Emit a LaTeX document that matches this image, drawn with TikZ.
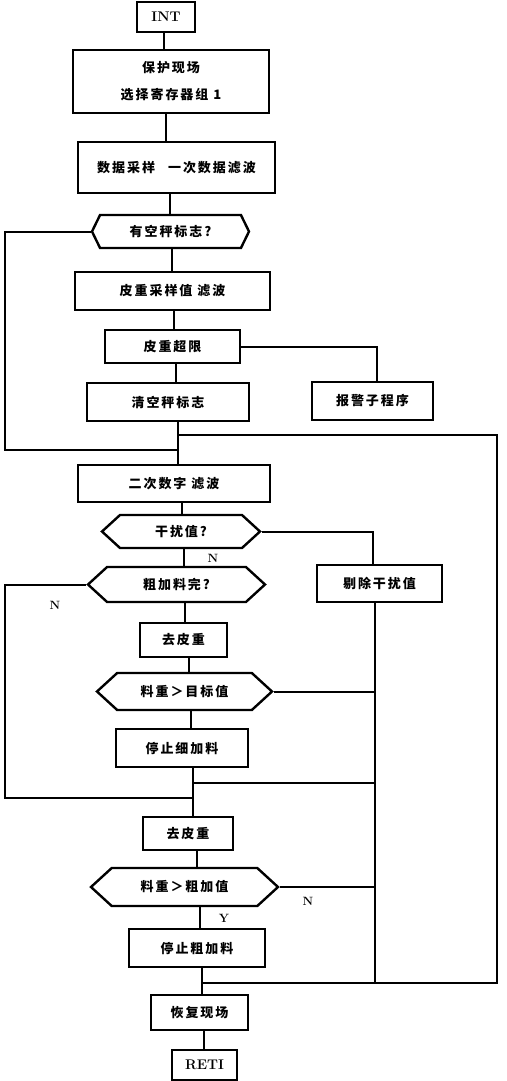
\documentclass[tikz,border=0pt]{standalone}
\usepackage{fontspec}
\usetikzlibrary{shapes.symbols}
\newfontfamily\cjk{Noto Sans CJK SC}[LetterSpace=15]

\tikzset{
  proc/.style={draw,line width=2.4pt,inner sep=0pt,font=\cjk\bfseries\fontsize{13}{15}\selectfont},
  decide/.style={proc,signal,signal to=west and east,signal pointer angle=85},
  lbl/.style={font=\bfseries\fontsize{12}{12}\selectfont},
  latin/.style={font=\bfseries\fontsize{14}{14}\selectfont}
}

\begin{document}
\begin{tikzpicture}[x=1pt,y=-1pt,line width=2pt]
\useasboundingbox (0,0) rectangle (506,1081);
% main column
\node[proc,latin,minimum width=58,minimum height=30] (int) at (166,17) {INT};
\node[proc,minimum width=196,minimum height=63,align=center] (prot) at (171,81.5) {保护现场\\[12pt]选择寄存器组 1};
\node[proc,minimum width=197,minimum height=51] (samp) at (176.5,167.5) {数据采样\quad 一次数据滤波};
\node[decide,minimum width=157,minimum height=33,signal pointer angle=128] (flag) at (170.5,231.5) {有空秤标志?};
\node[proc,minimum width=195,minimum height=38] (tare) at (172.5,291) {皮重采样值\ 滤波};
\node[proc,minimum width=135,minimum height=33] (over) at (172.5,346.5) {皮重超限};
\node[proc,minimum width=121,minimum height=38] (alarm) at (372.5,401) {报警子程序};
\node[proc,minimum width=162,minimum height=38] (clear) at (168,402) {清空秤标志};
\node[proc,minimum width=192,minimum height=37] (filt) at (174,483.5) {二次数字\ 滤波};
\node[decide,minimum width=158,minimum height=33] (noise) at (181,531.5) {干扰值?};
\node[proc,minimum width=125,minimum height=37] (drop) at (379.5,583.5) {剔除干扰值};
\node[decide,minimum width=177,minimum height=35] (coarse) at (176.5,584.5) {粗加料完?};
\node[proc,minimum width=87,minimum height=34] (tareA) at (183.5,640) {去皮重};
\node[decide,minimum width=175,minimum height=37] (fine) at (184.5,691.5) {料重＞目标值};
\node[proc,minimum width=132,minimum height=38] (stopF) at (182,748) {停止细加料};
\node[proc,minimum width=90,minimum height=33] (tareB) at (188,833.5) {去皮重};
\node[decide,minimum width=187,minimum height=38] (rough) at (184.5,887) {料重＞粗加值};
\node[proc,minimum width=136,minimum height=38] (stopC) at (197,948) {停止粗加料};
\node[proc,minimum width=97,minimum height=35] (rest) at (199.5,1012.5) {恢复现场};
\node[proc,latin,minimum width=65,minimum height=30] (reti) at (204.5,1065) {RETI};
% junctions
\coordinate (j0) at (178,435);
\coordinate (j1) at (178,450);
\coordinate (j2) at (193,783);
\coordinate (j3) at (193,798);
\coordinate (j4) at (202,983);
\coordinate (r4) at (375,983);
% spine
\draw ([xshift=-2]int.south) -- ([xshift=-2]int.south |- prot.north);
\draw ([xshift=-5]prot.south) -- ([xshift=-5]prot.south |- samp.north);
\draw ([xshift=-6.5]samp.south) -- ([xshift=-6.5]samp.south |- flag.north);
\draw ([xshift=1.5]flag.south) -- ([xshift=1.5]flag.south |- tare.north);
\draw ([xshift=1.5]tare.south) -- ([xshift=1.5]tare.south |- over.north);
\draw ([xshift=3.5]over.south) -- ([xshift=3.5]over.south |- clear.north);
\draw ([xshift=10]clear.south) -- ([xshift=10]clear.south |- filt.north);
\draw ([xshift=8]filt.south) -- ([xshift=8]filt.south |- noise.north);
\draw ([xshift=3]noise.south) -- ([xshift=3]noise.south |- coarse.north);
\draw ([xshift=8.5]coarse.south) -- ([xshift=8.5]coarse.south |- tareA.north);
\draw ([xshift=5.5]tareA.south) -- ([xshift=5.5]tareA.south |- fine.north);
\draw ([xshift=6.5]fine.south) -- ([xshift=6.5]fine.south |- stopF.north);
\draw ([xshift=11]stopF.south) -- ([xshift=11]stopF.south |- tareB.north);
\draw ([xshift=9]tareB.south) -- ([xshift=9]tareB.south |- rough.north);
\draw ([xshift=15.5]rough.south) -- ([xshift=15.5]rough.south |- stopC.north);
\draw ([xshift=5]stopC.south) -- ([xshift=5]stopC.south |- rest.north);
\draw ([xshift=4.5]rest.south) -- ([xshift=4.5]rest.south |- reti.north);
% loops
\draw (flag.west) -| (5,450) -- (j1);
\draw (coarse.west) -| (5,798) -- (j3);
\draw[line width=1.5pt] (j0) -| (497,983) -- (j4);
\draw (over.east) -| ([xshift=4.5]alarm.north);
\draw (noise.east) -| ([xshift=-6.5]drop.north);
\draw ([xshift=-4.5]drop.south) -- (r4);
\draw (fine.east) -- (fine.east -| r4);
\draw (j2) -- (j2 -| r4);
\draw (rough.east) -- (rough.east -| r4);
% labels
\node[lbl] (nA) at (213,558) {N};
\node[lbl] (nB) at (55,605) {N};
\node[lbl] (nC) at (308,901) {N};
\node[lbl] (yC) at (224,918) {Y};
\end{tikzpicture}
\end{document}
